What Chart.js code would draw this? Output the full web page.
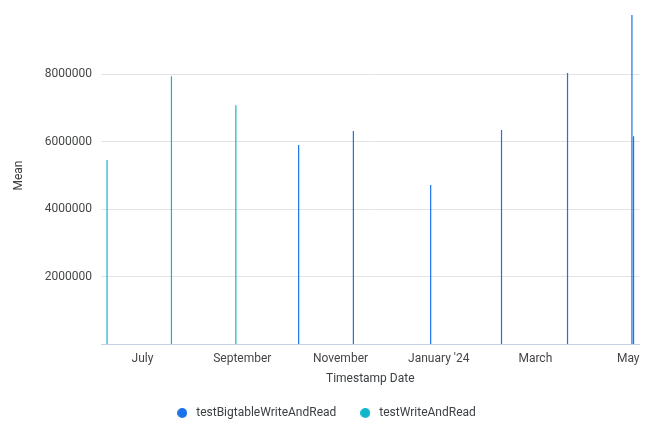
<!DOCTYPE html>
<html>
<head>
<meta charset="utf-8">
<script src="https://cdn.jsdelivr.net/npm/chart.js@4"></script>
<style>
  html, body { margin: 0; padding: 0; background: #fff; }
  #c { display: block; }
</style>
</head>
<body>
<canvas id="c" width="650" height="442"></canvas>
<script>
// ---- data ----
const seriesNames = ['testBigtableWriteAndRead', 'testWriteAndRead'];
const bigtableDates = ['2023-10-06', '2023-11-09', '2023-12-27', '2024-02-09', '2024-03-21', '2024-04-30', '2024-05-01'];
const bigtableMeans = [5910000, 6320000, 4720000, 6350000, 8040000, 9760000, 6170000];
const writeReadDates = ['2023-06-09', '2023-07-19', '2023-08-28'];
const writeReadMeans = [5460000, 7950000, 7090000];
const tickDates = ['2023-07-01', '2023-09-01', '2023-11-01', '2024-01-01', '2024-03-01', '2024-05-01'];
const tickLabels = ['July', 'September', 'November', "January '24", 'March', 'May'];
const axisStart = '2023-06-05T06:00:00Z';
const axisEnd = '2024-05-04T16:48:00Z';
const yTicks = [2000000, 4000000, 6000000, 8000000];
const yMax = 10000000;

const seriesColors = ['#1a73e8', '#12b5cb'];

const t = s => new Date(s.length === 10 ? s + 'T00:00:00Z' : s).getTime();
const pts = (dates, vals) => dates.map((d, i) => ({ x: t(d), y: vals[i] }));

const labelByValue = {};
tickDates.forEach((d, i) => { labelByValue[t(d)] = tickLabels[i]; });

function dot(color) {
  const c = document.createElement('canvas');
  c.width = 10; c.height = 10;
  const g = c.getContext('2d');
  g.fillStyle = color;
  g.beginPath(); g.arc(5, 5, 5, 0, Math.PI * 2); g.fill();
  return c;
}

Chart.defaults.font.family = 'Roboto, "Noto Sans", sans-serif';
Chart.defaults.font.size = 12;
Chart.defaults.color = '#444746';

new Chart(document.getElementById('c'), {
  type: 'bar',
  data: {
    datasets: [
      { label: seriesNames[0], data: pts(bigtableDates, bigtableMeans), backgroundColor: seriesColors[0], borderWidth: 0, inflateAmount: 0 },
      { label: seriesNames[1], data: pts(writeReadDates, writeReadMeans), backgroundColor: seriesColors[1], borderWidth: 0, inflateAmount: 0 }
    ]
  },
  options: {
    responsive: false,
    animation: false,
    events: [],
    grouped: false,
    barThickness: 1.2,
    layout: { padding: { left: 10.5, right: 10.5, top: 7, bottom: 13 } },
    plugins: {
      tooltip: { enabled: false },
      legend: {
        position: 'bottom',
        labels: {
          usePointStyle: true,
          pointStyleWidth: 16,
          boxHeight: 12,
          padding: 21,
          color: '#3c4043',
          generateLabels(chart) {
            const items = Chart.defaults.plugins.legend.labels.generateLabels(chart);
            items.forEach(it => { it.pointStyle = dot(seriesColors[it.datasetIndex]); });
            return items;
          }
        }
      }
    },
    scales: {
      x: {
        type: 'linear',
        offset: false,
        min: t(axisStart),
        max: t(axisEnd),
        grid: { display: false, offset: false, drawTicks: false },
        border: { display: true, color: '#c6d0e2', width: 1 },
        afterBuildTicks(scale) {
          const ticks = [{ value: scale.min }];
          tickDates.forEach(d => ticks.push({ value: t(d) }));
          // last label is pinned to the axis end, as in the source chart
          const last = ticks[ticks.length - 1];
          labelByValue[scale.max] = labelByValue[last.value];
          last.value = scale.max;
          scale.ticks = ticks;
        },
        ticks: {
          align: 'inner',
          padding: 8,
          maxRotation: 0,
          autoSkip: false,
          color: '#444746',
          callback(v) { return labelByValue[v] || ''; }
        },
        title: { display: true, text: 'Timestamp Date', color: '#3c4043', padding: { top: -3, bottom: 0 } }
      },
      y: {
        type: 'linear',
        min: 0,
        max: yMax,
        afterBuildTicks(scale) { scale.ticks = yTicks.map(v => ({ value: v })); },
        afterFit(scale) { scale.width = 90.5; scale.paddingTop = 0; scale.paddingBottom = 0; },
        grid: { drawTicks: false, color: '#e3e3e3' },
        border: { display: false },
        ticks: { padding: 9, color: '#444746', callback: v => String(v) },
        title: { display: true, text: 'Mean', color: '#3c4043', padding: { top: 1.3, bottom: 0 } }
      }
    }
  }
});
</script>
</body>
</html>
